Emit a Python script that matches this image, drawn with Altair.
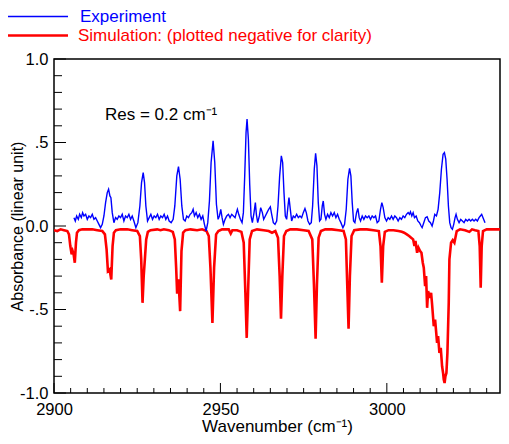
import altair as alt
import pandas as pd

# ---------------- data ----------------
# Experiment (blue), wavenumber (cm-1), absorbance
experiment = [
    (2906.0, 0.05), (2906.4, 0.03), (2906.8, 0.06), (2907.3, 0.04), (2907.7, 0.07),
    (2908.2, 0.05), (2908.6, 0.08), (2909.0, 0.06), (2909.5, 0.07), (2910.0, 0.04),
    (2910.5, 0.06), (2911.0, 0.05), (2911.5, 0.07), (2912.0, 0.04), (2912.5, 0.05),
    (2913.0, 0.03), (2913.5, 0.01), (2914.0, -0.01), (2914.5, 0.01), (2915.0, 0.06),
    (2915.5, 0.14), (2916.0, 0.20), (2916.4, 0.22), (2916.8, 0.18), (2917.1, 0.17),
    (2917.5, 0.08), (2918.0, 0.02), (2918.5, 0.05), (2919.0, 0.04), (2919.5, 0.06),
    (2920.0, 0.05), (2920.5, 0.07), (2921.0, 0.03), (2921.5, 0.06), (2922.0, 0.05),
    (2922.5, 0.07), (2923.0, 0.04), (2923.5, 0.06), (2924.0, 0.03), (2924.6, -0.01),
    (2925.2, 0.02), (2925.8, 0.12), (2926.3, 0.26), (2926.8, 0.32), (2927.2, 0.26),
    (2927.6, 0.12), (2928.1, 0.03), (2928.6, 0.05), (2929.1, 0.07), (2929.6, 0.04),
    (2930.1, 0.06), (2930.6, 0.05), (2931.1, 0.07), (2931.6, 0.04), (2932.1, 0.06),
    (2932.6, 0.05), (2933.1, 0.07), (2933.6, 0.04), (2934.1, 0.06), (2934.6, 0.03),
    (2935.2, 0.02), (2935.8, 0.04), (2936.3, 0.12), (2936.9, 0.30), (2937.4, 0.355),
    (2937.9, 0.28), (2938.4, 0.12), (2938.9, 0.04), (2939.4, 0.03), (2939.9, 0.06),
    (2940.4, 0.05), (2940.9, 0.07), (2941.4, 0.08), (2941.8, 0.10), (2942.2, 0.06),
    (2942.7, 0.08), (2943.2, 0.05), (2943.7, 0.07), (2944.2, 0.04), (2944.7, 0.06),
    (2945.2, 0.01), (2945.7, -0.03), (2946.2, 0.02), (2946.7, 0.15), (2947.2, 0.38),
    (2947.8, 0.51), (2948.3, 0.38), (2948.8, 0.13), (2949.3, 0.04), (2949.7, 0.06),
    (2950.1, 0.10), (2950.5, 0.05), (2950.9, 0.01), (2951.4, 0.04), (2951.9, 0.06),
    (2952.4, 0.07), (2952.9, 0.05), (2953.4, 0.07), (2953.9, 0.06), (2954.4, 0.05),
    (2954.8, 0.08), (2955.1, 0.10), (2955.5, 0.07), (2956.0, 0.04), (2956.5, 0.02),
    (2956.9, 0.08), (2957.3, 0.30), (2957.7, 0.56), (2958.0, 0.64), (2958.4, 0.52),
    (2958.8, 0.25), (2959.2, 0.06), (2959.6, 0.02), (2960.1, 0.08), (2960.5, 0.14),
    (2960.8, 0.07), (2961.2, 0.02), (2961.7, 0.06), (2962.1, 0.11), (2962.6, 0.08),
    (2963.0, 0.04), (2963.5, 0.06), (2964.0, 0.08), (2964.5, 0.10), (2965.0, 0.115),
    (2965.4, 0.07), (2965.9, 0.02), (2966.4, 0.01), (2966.9, 0.03), (2967.3, 0.12),
    (2967.8, 0.30), (2968.3, 0.42), (2968.7, 0.38), (2969.1, 0.20), (2969.5, 0.06),
    (2969.9, 0.04), (2970.3, 0.12), (2970.6, 0.17), (2971.0, 0.10), (2971.4, 0.03),
    (2971.9, 0.06), (2972.4, 0.05), (2972.9, 0.07), (2973.4, 0.05), (2973.9, 0.06),
    (2974.4, 0.05), (2974.9, 0.08), (2975.4, 0.105), (2975.8, 0.08), (2976.3, 0.03),
    (2976.8, 0.01), (2977.3, 0.02), (2977.7, 0.12), (2978.2, 0.34), (2978.6, 0.435),
    (2979.0, 0.36), (2979.4, 0.14), (2979.8, 0.03), (2980.2, 0.04), (2980.6, 0.12),
    (2980.9, 0.15), (2981.3, 0.07), (2981.7, 0.04), (2982.2, 0.07), (2982.7, 0.05),
    (2983.2, 0.08), (2983.7, 0.06), (2984.2, 0.08), (2984.7, 0.05), (2985.2, 0.07),
    (2985.7, 0.04), (2986.2, 0.02), (2986.8, -0.01), (2987.3, 0.01), (2987.8, 0.10),
    (2988.3, 0.28), (2988.8, 0.345), (2989.2, 0.30), (2989.6, 0.14), (2990.0, 0.03),
    (2990.4, 0.02), (2990.9, 0.08), (2991.3, 0.105), (2991.7, 0.05), (2992.1, 0.03),
    (2992.6, 0.06), (2993.1, 0.04), (2993.6, 0.06), (2994.1, 0.05), (2994.6, 0.06),
    (2995.1, 0.04), (2995.6, 0.06), (2996.1, 0.05), (2996.6, 0.06), (2997.1, 0.02),
    (2997.6, 0.03), (2998.1, 0.10), (2998.5, 0.14), (2998.9, 0.11), (2999.4, 0.05),
    (2999.9, 0.03), (3000.4, 0.05), (3000.9, 0.04), (3001.4, 0.06), (3001.9, 0.04),
    (3002.4, 0.06), (3002.9, 0.05), (3003.4, 0.03), (3003.9, 0.05), (3004.4, 0.04),
    (3004.9, 0.06), (3005.4, 0.05), (3005.9, 0.07), (3006.4, 0.08), (3006.8, 0.07),
    (3007.1, 0.085), (3007.5, 0.06), (3007.9, 0.08), (3008.3, 0.05), (3008.8, 0.06),
    (3009.3, 0.03), (3009.8, 0.02), (3010.3, 0.00), (3010.6, -0.01), (3011.1, 0.02),
    (3011.6, 0.05), (3012.1, 0.055), (3012.6, 0.03), (3013.1, 0.02), (3013.6, 0.00),
    (3014.0, 0.03), (3014.4, 0.07), (3014.9, 0.06), (3015.4, 0.10), (3015.9, 0.20),
    (3016.4, 0.34), (3016.9, 0.43), (3017.3, 0.44), (3017.7, 0.40), (3018.1, 0.28),
    (3018.5, 0.12), (3018.9, 0.02), (3019.3, -0.01), (3019.7, -0.02), (3020.1, 0.01),
    (3020.5, 0.05), (3020.8, 0.07), (3021.2, 0.04), (3021.7, 0.02), (3022.2, 0.04),
    (3022.7, 0.03), (3023.2, 0.02), (3023.7, 0.04), (3024.2, 0.03), (3024.7, 0.04),
    (3025.2, 0.03), (3025.7, 0.04), (3026.2, 0.03), (3026.7, 0.04), (3027.2, 0.03),
    (3027.7, 0.05), (3028.1, 0.06), (3028.5, 0.07), (3028.9, 0.05), (3029.5, 0.02),
]

# Simulation (red, plotted negative)
simulation = [
    (2900.0, -0.025), (2901.0, -0.03), (2901.5, -0.025), (2902.0, -0.02), (2903.0, -0.025),
    (2904.0, -0.03), (2904.5, -0.05), (2904.9, -0.12), (2905.3, -0.17), (2905.6, -0.15),
    (2905.9, -0.17), (2906.25, -0.22), (2906.6, -0.10), (2906.9, -0.04), (2907.5, -0.025),
    (2908.5, -0.02), (2910.0, -0.02), (2911.5, -0.02), (2913.0, -0.025), (2914.5, -0.03),
    (2915.3, -0.05), (2915.8, -0.14), (2916.2, -0.27), (2916.7, -0.26), (2917.2, -0.32),
    (2917.6, -0.12), (2918.0, -0.04), (2918.6, -0.025), (2920.0, -0.02), (2922.0, -0.02),
    (2923.5, -0.025), (2925.0, -0.03), (2925.8, -0.06), (2926.2, -0.20), (2926.6, -0.46),
    (2926.95, -0.30), (2927.3, -0.20), (2927.7, -0.08), (2928.2, -0.035), (2929.0, -0.025),
    (2931.0, -0.02), (2932.0, -0.025), (2933.0, -0.02), (2934.5, -0.025), (2935.7, -0.035),
    (2936.3, -0.08), (2936.7, -0.25), (2937.0, -0.405), (2937.4, -0.32), (2937.9, -0.51),
    (2938.3, -0.15), (2938.8, -0.04), (2939.5, -0.025), (2941.0, -0.02), (2943.0, -0.025),
    (2944.5, -0.02), (2945.8, -0.03), (2946.5, -0.06), (2947.0, -0.25), (2947.6, -0.58),
    (2948.1, -0.25), (2948.7, -0.05), (2949.4, -0.03), (2950.5, -0.02), (2952.5, -0.02),
    (2953.1, -0.045), (2953.6, -0.025), (2955.0, -0.025), (2956.3, -0.035), (2957.0, -0.10),
    (2957.5, -0.40), (2957.9, -0.67), (2958.3, -0.40), (2958.8, -0.08), (2959.5, -0.03),
    (2961.0, -0.02), (2963.0, -0.025), (2964.5, -0.03), (2965.5, -0.04), (2966.5, -0.03),
    (2967.3, -0.07), (2967.8, -0.30), (2968.2, -0.555), (2968.6, -0.30), (2969.1, -0.06),
    (2969.8, -0.03), (2971.0, -0.02), (2973.0, -0.02), (2975.0, -0.025), (2976.5, -0.03),
    (2977.6, -0.08), (2978.1, -0.35), (2978.6, -0.675), (2979.0, -0.35), (2979.5, -0.07),
    (2980.2, -0.03), (2981.5, -0.02), (2983.5, -0.02), (2985.5, -0.025), (2987.0, -0.03),
    (2987.7, -0.08), (2988.1, -0.35), (2988.5, -0.615), (2988.9, -0.30), (2989.4, -0.06),
    (2990.2, -0.025), (2992.0, -0.02), (2994.0, -0.02), (2996.0, -0.025), (2997.6, -0.03),
    (2998.1, -0.12), (2998.5, -0.34), (2998.9, -0.12), (2999.4, -0.035), (3000.5, -0.025),
    (3002.0, -0.025), (3003.5, -0.03), (3004.5, -0.035), (3005.2, -0.04), (3006.0, -0.05),
    (3006.7, -0.06), (3007.3, -0.07), (3007.9, -0.08), (3008.3, -0.12), (3008.6, -0.09),
    (3009.1, -0.16), (3009.5, -0.13), (3010.0, -0.15), (3010.4, -0.16), (3010.8, -0.22),
    (3011.1, -0.25), (3011.5, -0.36), (3011.8, -0.30), (3012.1, -0.49), (3012.4, -0.39),
    (3012.9, -0.43), (3013.3, -0.40), (3013.6, -0.47), (3014.1, -0.60), (3014.5, -0.56),
    (3015.1, -0.70), (3015.4, -0.66), (3015.8, -0.76), (3016.2, -0.73), (3016.6, -0.84),
    (3016.9, -0.88), (3017.1, -0.92), (3017.35, -0.94), (3017.6, -0.90), (3017.9, -0.88),
    (3018.2, -0.76), (3018.6, -0.46), (3018.8, -0.20), (3019.3, -0.10), (3019.8, -0.085),
    (3020.3, -0.10), (3021.0, -0.03), (3022.0, -0.02), (3023.5, -0.025), (3024.8, -0.035),
    (3025.6, -0.02), (3026.5, -0.025), (3027.5, -0.03), (3027.9, -0.12), (3028.2, -0.37),
    (3028.5, -0.12), (3028.9, -0.03), (3030.0, -0.02), (3032.0, -0.02), (3034.0, -0.02),
]

x_major = [2900, 2950, 3000]
x_minor = [2905, 2910, 2915, 2920, 2925, 2930, 2935, 2940, 2945,
           2955, 2960, 2965, 2970, 2975, 2980, 2985, 2990, 2995,
           3005, 3010, 3015, 3020, 3025, 3030]
y_major = [-1.0, -0.5, 0.0, 0.5, 1.0]
y_minor = [-0.9, -0.8, -0.7, -0.6, -0.4, -0.3, -0.2, -0.1,
           0.1, 0.2, 0.3, 0.4, 0.6, 0.7, 0.8, 0.9]

series_names = ["Experiment", "Simulation: (plotted negative for clarity)"]
series_colors = ["#0000ff", "#ff0000"]
res_label = "Res = 0.2 cm\u207b\u00b9"
x_title = "Wavenumber (cm\u207b\u00b9)"
y_title = "Absorbance (linear unit)"

# ---------------- chart ----------------
W, H = 446, 334
FONT = "Liberation Sans"

exp_df = pd.DataFrame({"wn": [p[0] for p in experiment], "a": [p[1] for p in experiment]})
sim_df = pd.DataFrame({"wn": [p[0] for p in simulation], "a": [p[1] for p in simulation]})

xscale = alt.Scale(domain=[2900, 3034], nice=False, zero=False)
yscale = alt.Scale(domain=[-1, 1], nice=False, zero=False)

x_axis = alt.Axis(
    values=x_major, format="d", title=x_title, ticks=False, domain=False, grid=False,
    labelFont=FONT, labelFontSize=16.5, labelColor="black", labelPadding=8,
    labelFlush=False, labelOverlap=False,
    titleFont=FONT, titleFontSize=17, titleFontWeight="normal", titleColor="black",
    titleY=38, titleBaseline="alphabetic",
)
y_axis = alt.Axis(
    values=y_major, title=y_title, ticks=False, domain=False, grid=False,
    labelExpr="datum.value == 1 ? '1.0' : datum.value == 0.5 ? '.5' : datum.value == 0 ? '0.0' : datum.value == -0.5 ? '-.5' : '-1.0'",
    labelFont=FONT, labelFontSize=16.5, labelColor="black", labelPadding=6,
    labelFlush=False, labelOverlap=False,
    titleFont=FONT, titleFontSize=16, titleFontWeight="normal", titleColor="black",
    titleAngle=270, titleX=-32, titleY=H / 2, titleAlign="center", titleBaseline="alphabetic",
)

red_line = alt.Chart(sim_df).mark_line(color=series_colors[1], strokeWidth=2.6, clip=True).encode(
    x=alt.X("wn:Q", scale=xscale, axis=x_axis),
    y=alt.Y("a:Q", scale=yscale, axis=y_axis),
)
blue_line = alt.Chart(exp_df).mark_line(color=series_colors[0], strokeWidth=1.4, clip=True).encode(
    x=alt.X("wn:Q", scale=xscale, axis=x_axis),
    y=alt.Y("a:Q", scale=yscale, axis=y_axis),
)

def xticks(vals, length):
    return alt.Chart(pd.DataFrame({"wn": vals})).mark_rule(color="black", strokeWidth=1).encode(
        x=alt.X("wn:Q", scale=xscale, axis=x_axis),
        y=alt.value(H), y2=alt.value(H - length),
    )

def yticks(vals, length):
    return alt.Chart(pd.DataFrame({"a": vals})).mark_rule(color="black", strokeWidth=1).encode(
        y=alt.Y("a:Q", scale=yscale, axis=y_axis),
        x=alt.value(0), x2=alt.value(length),
    )

one = pd.DataFrame({"k": [0]})

leg_rows = [-43, -24]
legend_layers = []
for i, (name, col) in enumerate(zip(series_names, series_colors)):
    legend_layers.append(
        alt.Chart(one).mark_rule(color=col, strokeWidth=1.4 if i == 0 else 2.6).encode(
            x=alt.value(-46), x2=alt.value(14), y=alt.value(leg_rows[i] + 0.5)
        )
    )
    legend_layers.append(
        alt.Chart(one).mark_text(font=FONT, fontSize=17, color=col, align="left", baseline="middle").encode(
            x=alt.value(26 if i == 0 else 24), y=alt.value(leg_rows[i] + 1), text=alt.value(name)
        )
    )

res_text = alt.Chart(one).mark_text(font=FONT, fontSize=17, color="black", align="left", baseline="alphabetic").encode(
    x=alt.value(51), y=alt.value(61), text=alt.value(res_label)
)

chart = alt.layer(
    red_line, blue_line,
    xticks(x_minor, 5), xticks(x_major, 10),
    yticks(y_minor, 8), yticks(y_major, 12),
    res_text, *legend_layers,
).properties(
    width=W, height=H,
    padding={"left": 46, "top": 51, "right": 1, "bottom": 43},
    autosize=alt.AutoSizeParams(type="none"),
    background="white",
).configure_view(
    stroke="black", strokeWidth=1.5,
)

chart.save("out.html", embed_options={"renderer": "svg", "actions": False})
